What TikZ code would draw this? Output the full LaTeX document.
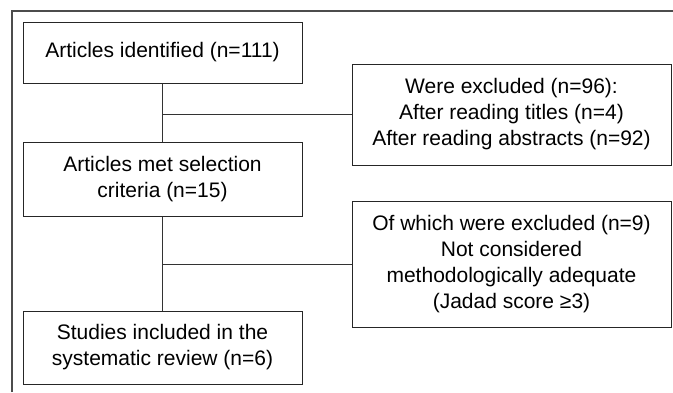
\documentclass[tikz,border=0pt]{standalone}
\usepackage{fontspec}
\setmainfont{Liberation Sans}
\begin{document}
\begin{tikzpicture}[x=1pt,y=-1pt,
  stagebox/.style={draw=black!85,line width=1pt,minimum width=279pt,align=center,inner sep=0pt,font=\fontsize{21}{26}\selectfont},
  exclbox/.style={stagebox,minimum width=319pt},
  link/.style={draw=black!80,line width=1pt}]
\useasboundingbox (0,0) rectangle (673,392);
% outer frame
\coordinate (fb) at (12,392);
\coordinate (fc) at (12,11);
\coordinate (fr) at (673,11);
\draw[draw=black!70,line width=1.6pt] (fb)--(fc)--(fr);
% left column
\node[stagebox,minimum height=61pt] (ident) at (162.5,52.5) {Articles identified (n=111)};
\node[stagebox,minimum height=74pt] (met) at (162.5,179) {Articles met selection\\criteria (n=15)};
\node[stagebox,minimum height=73pt] (incl) at (162.5,347.5) {Studies included in the\\systematic review (n=6)};
% right column
\node[exclbox,minimum height=101pt] (excl1) at (511.5,114.5) {Were excluded (n=96):\\After reading titles (n=4)\\After reading abstracts (n=92)};
\node[exclbox,minimum height=126pt] (excl2) at (511.5,264) {Of which were excluded (n=9)\\Not considered\\methodologically adequate\\(Jadad score ≥3)};
% connectors
\draw[link] (ident)--(met);
\draw[link] (met)--(incl);
\draw[link] (ident.south |- excl1.west)--(excl1.west);
\draw[link] (met.south |- excl2.west)--(excl2.west);
\end{tikzpicture}
\end{document}
